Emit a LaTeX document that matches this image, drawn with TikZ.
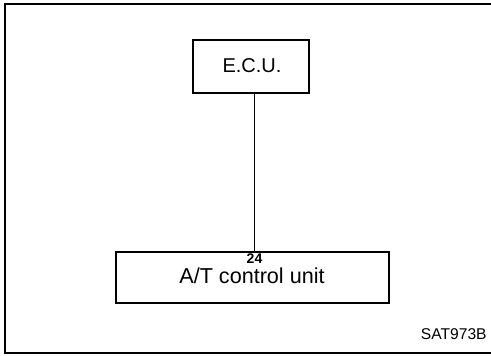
\documentclass[tikz,border=0pt]{standalone}
\usepackage{fontspec}
\setmainfont{Liberation Sans}
\usetikzlibrary{positioning}
\tikzset{
  unitbox/.style={draw=black, line width=0.65pt, inner sep=0pt},
  unitname/.style={font=\fontsize{10}{12}\selectfont, anchor=base, inner sep=0pt},
  pinno/.style={font=\fontsize{7}{8}\selectfont\bfseries, anchor=base, inner sep=0pt},
  wire/.style={line width=0.6pt},
  frame/.style={line width=1pt},
  figref/.style={font=\fontsize{7.8}{9}\selectfont, anchor=base east, inner sep=0pt}
}
\begin{document}
\begin{tikzpicture}[x=0.5pt,y=-0.5pt]
  \useasboundingbox (0,0) rectangle (491,356);
  % page frame, open to the right
  \draw[frame] (491,4) -- (5,4) -- (5,353) -- (491,353);

  % units
  \node[unitbox, minimum width=58pt, minimum height=26.5pt] (ecu) at (251,66.5) {};
  \node[unitname] (ecu-name) at (252,73) {E.C.U.};
  \node[unitbox, minimum width=136.5pt, minimum height=25.5pt] (atcu) at (252.5,277.5) {};
  \node[unitname, font=\fontsize{10.8}{13}\selectfont] (atcu-name) at (252,283.5) {A/T control unit};
  \node[pinno] (pin24) at (254.5,264) {24};

  % connection
  \draw[wire] (atcu.north -| pin24) -- (ecu.south -| pin24);

  \node[figref] (ref) at (487,340) {SAT973B};
\end{tikzpicture}
\end{document}
